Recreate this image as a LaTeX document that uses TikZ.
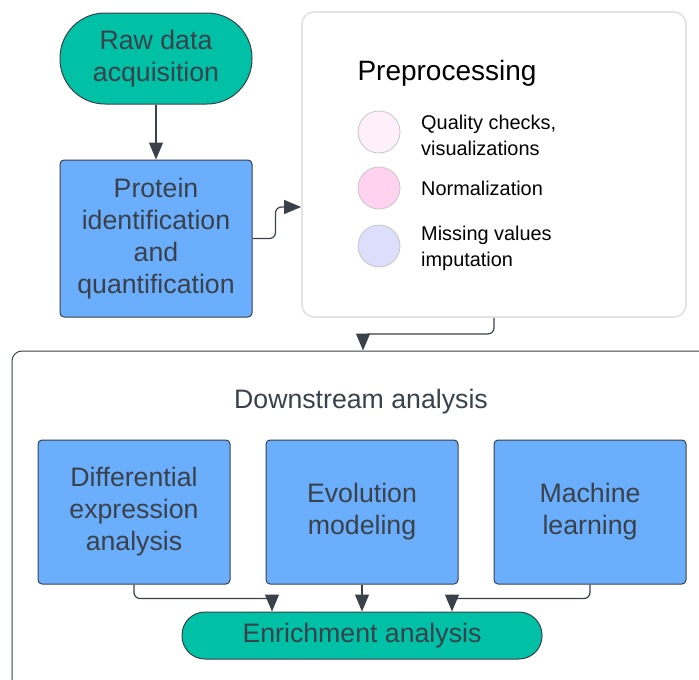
\documentclass[tikz,border=0pt]{standalone}
\usepackage{fontspec}
\setmainfont{Liberation Sans}
\usetikzlibrary{arrows.meta}
\definecolor{inkgray}{RGB}{58,65,74}
\definecolor{tealfill}{RGB}{0,192,165}
\definecolor{boxblue}{RGB}{106,174,252}
\definecolor{palepink}{RGB}{253,240,250}
\definecolor{softpink}{RGB}{255,210,240}
\definecolor{lavender}{RGB}{220,222,252}
\begin{document}
\begin{tikzpicture}[x=1pt, y=-1pt, >={Triangle[length=17pt, width=14pt]},
	font=\fontsize{26.7}{32}\selectfont,
	terminal/.style={draw=inkgray, line width=1pt, fill=tealfill, text=inkgray, align=center, inner sep=0pt},
	stage/.style={draw=inkgray, line width=1pt, fill=boxblue, text=inkgray, align=center, rounded corners=4pt,
		minimum width=192pt, minimum height=144pt, inner sep=0pt},
	dot/.style={circle, draw=gray!45, line width=0.8pt, minimum size=42pt, inner sep=0pt},
	item/.style={anchor=west, align=left, inner sep=0pt, font=\fontsize{19.9}{26}\selectfont},
	link/.style={draw=inkgray, line width=1.2pt, rounded corners=6pt}]
	\useasboundingbox (0,0) rectangle (699,680);
	\clip (0,0) rectangle (699,680);
	% top row
	\node[terminal, minimum width=192pt, minimum height=91pt, rounded corners=45pt] (raw) at (156,58.5) {Raw data\\acquisition};
	\node[stage, minimum height=157pt] (protein) at (156,238.5) {Protein\\identification\\and\\quantification};
	\node[draw=gray!22, line width=1.8pt, rounded corners=12pt, minimum width=384pt, minimum height=305pt] (prep) at (494,164.5) {};
	\node[text=black, font=\fontsize{28}{32}\selectfont] (preptitle) at (447,73) {Preprocessing};
	\node[dot, fill=palepink] (qc) at (379,132) {};
	\node[dot, fill=softpink] (norm) at (379,188) {};
	\node[dot, fill=lavender] (miss) at (379,246) {};
	\node[item] (qctext) at (421,135) {Quality checks,\\visualizations};
	\node[item] (normtext) at (421,188) {Normalization};
	\node[item] (misstext) at (421,248) {Missing values\\imputation};
	% downstream part
	\node[draw=inkgray, line width=1pt, rounded corners=10pt, minimum width=702pt, minimum height=349pt] (down) at (363,525.5) {};
	\node[text=inkgray] (downtitle) at (361,402) {Downstream analysis};
	\node[stage] (diff) at (134,512) {Differential\\expression\\analysis};
	\node[stage] (evol) at (362,512) {Evolution\\modeling};
	\node[stage] (ml) at (590,512) {Machine\\learning};
	\node[terminal, minimum width=360pt, minimum height=47pt, rounded corners=23pt] (enrich) at (362,635.5) {Enrichment analysis};
	% connectors
	\draw[link, ->] (raw) -- (protein);
	\draw[link, ->] (protein.east) -- ++(23,0) |- ([yshift=-42.5pt]prep.west);
	\draw[link, ->] (prep.south) -- ++(0,16) -| (down.north);
	\draw[link, ->] (diff.south) -- ++(0,14) -| ([xshift=-90pt]enrich.north);
	\draw[link, ->] (evol) -- (enrich);
	\draw[link, ->] (ml.south) -- ++(0,14) -| ([xshift=90pt]enrich.north);
\end{tikzpicture}
\end{document}
